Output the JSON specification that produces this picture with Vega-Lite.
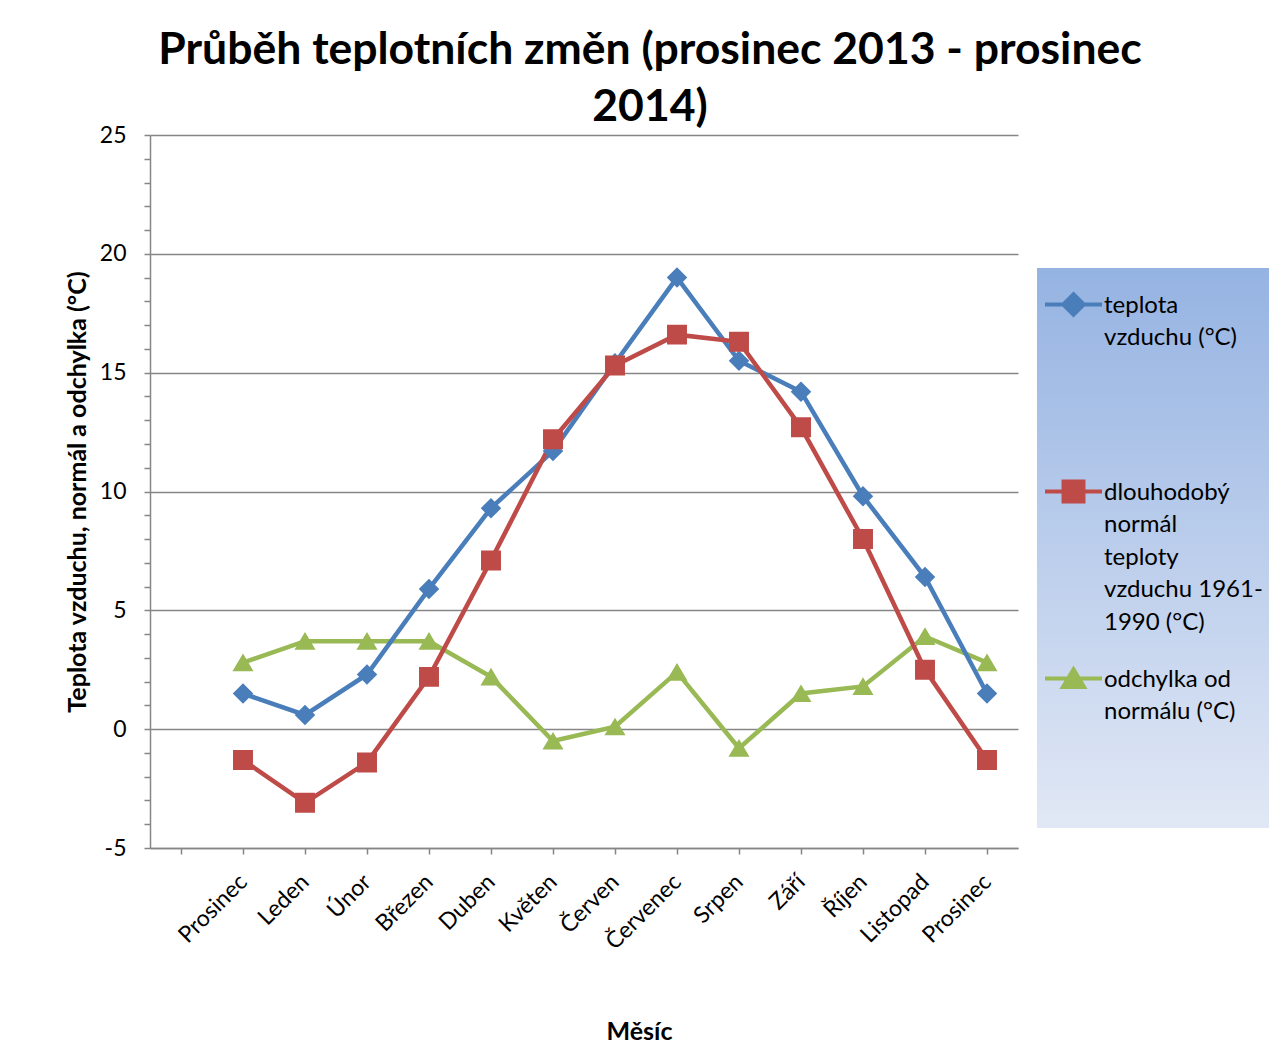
{
  "$schema": "https://vega.github.io/schema/vega-lite/v6.json",
  "width": 868,
  "height": 713,
  "padding": {"left": 65, "top": 27, "right": 0, "bottom": 0},
  "background": "white",
  "title": {
    "text": ["Průběh teplotních změn (prosinec 2013 - prosinec", "2014)"],
    "font": "Lato",
    "fontSize": 44.5,
    "fontWeight": "bold",
    "lineHeight": 57,
    "color": "black",
    "anchor": "middle",
    "dx": 66,
    "offset": -6
  },
  "config": {
    "view": {"stroke": null},
    "font": "Lato",
    "axis": {
      "labelFont": "Lato",
      "labelColor": "black",
      "titleColor": "black",
      "domainColor": "#868686",
      "tickColor": "#868686",
      "gridColor": "#868686",
      "domainWidth": 1.5,
      "tickWidth": 1.5,
      "gridWidth": 1.5
    }
  },
  "data": {
    "values": [
      {"mesic": "Prosinec 2013", "serie": "odchylka od normálu (°C)", "hodnota": 2.8},
      {"mesic": "Leden", "serie": "odchylka od normálu (°C)", "hodnota": 3.7},
      {"mesic": "Únor", "serie": "odchylka od normálu (°C)", "hodnota": 3.7},
      {"mesic": "Březen", "serie": "odchylka od normálu (°C)", "hodnota": 3.7},
      {"mesic": "Duben", "serie": "odchylka od normálu (°C)", "hodnota": 2.2},
      {"mesic": "Květen", "serie": "odchylka od normálu (°C)", "hodnota": -0.5},
      {"mesic": "Červen", "serie": "odchylka od normálu (°C)", "hodnota": 0.1},
      {"mesic": "Červenec", "serie": "odchylka od normálu (°C)", "hodnota": 2.4},
      {"mesic": "Srpen", "serie": "odchylka od normálu (°C)", "hodnota": -0.8},
      {"mesic": "Září", "serie": "odchylka od normálu (°C)", "hodnota": 1.5},
      {"mesic": "Říjen", "serie": "odchylka od normálu (°C)", "hodnota": 1.8},
      {"mesic": "Listopad", "serie": "odchylka od normálu (°C)", "hodnota": 3.9},
      {"mesic": "Prosinec 2014", "serie": "odchylka od normálu (°C)", "hodnota": 2.8},
      {"mesic": "Prosinec 2013", "serie": "teplota vzduchu (°C)", "hodnota": 1.5},
      {"mesic": "Leden", "serie": "teplota vzduchu (°C)", "hodnota": 0.6},
      {"mesic": "Únor", "serie": "teplota vzduchu (°C)", "hodnota": 2.3},
      {"mesic": "Březen", "serie": "teplota vzduchu (°C)", "hodnota": 5.9},
      {"mesic": "Duben", "serie": "teplota vzduchu (°C)", "hodnota": 9.3},
      {"mesic": "Květen", "serie": "teplota vzduchu (°C)", "hodnota": 11.7},
      {"mesic": "Červen", "serie": "teplota vzduchu (°C)", "hodnota": 15.4},
      {"mesic": "Červenec", "serie": "teplota vzduchu (°C)", "hodnota": 19.0},
      {"mesic": "Srpen", "serie": "teplota vzduchu (°C)", "hodnota": 15.5},
      {"mesic": "Září", "serie": "teplota vzduchu (°C)", "hodnota": 14.2},
      {"mesic": "Říjen", "serie": "teplota vzduchu (°C)", "hodnota": 9.8},
      {"mesic": "Listopad", "serie": "teplota vzduchu (°C)", "hodnota": 6.4},
      {"mesic": "Prosinec 2014", "serie": "teplota vzduchu (°C)", "hodnota": 1.5},
      {"mesic": "Prosinec 2013", "serie": "dlouhodobý normál teploty vzduchu 1961-1990 (°C)", "hodnota": -1.3},
      {"mesic": "Leden", "serie": "dlouhodobý normál teploty vzduchu 1961-1990 (°C)", "hodnota": -3.1},
      {"mesic": "Únor", "serie": "dlouhodobý normál teploty vzduchu 1961-1990 (°C)", "hodnota": -1.4},
      {"mesic": "Březen", "serie": "dlouhodobý normál teploty vzduchu 1961-1990 (°C)", "hodnota": 2.2},
      {"mesic": "Duben", "serie": "dlouhodobý normál teploty vzduchu 1961-1990 (°C)", "hodnota": 7.1},
      {"mesic": "Květen", "serie": "dlouhodobý normál teploty vzduchu 1961-1990 (°C)", "hodnota": 12.2},
      {"mesic": "Červen", "serie": "dlouhodobý normál teploty vzduchu 1961-1990 (°C)", "hodnota": 15.3},
      {"mesic": "Červenec", "serie": "dlouhodobý normál teploty vzduchu 1961-1990 (°C)", "hodnota": 16.6},
      {"mesic": "Srpen", "serie": "dlouhodobý normál teploty vzduchu 1961-1990 (°C)", "hodnota": 16.3},
      {"mesic": "Září", "serie": "dlouhodobý normál teploty vzduchu 1961-1990 (°C)", "hodnota": 12.7},
      {"mesic": "Říjen", "serie": "dlouhodobý normál teploty vzduchu 1961-1990 (°C)", "hodnota": 8.0},
      {"mesic": "Listopad", "serie": "dlouhodobý normál teploty vzduchu 1961-1990 (°C)", "hodnota": 2.5},
      {"mesic": "Prosinec 2014", "serie": "dlouhodobý normál teploty vzduchu 1961-1990 (°C)", "hodnota": -1.3}
    ]
  },
  "encoding": {
    "x": {
      "field": "mesic",
      "type": "ordinal",
      "sort": null,
      "scale": {
        "type": "point",
        "padding": 0.5,
        "domain": ["-", "Prosinec 2013", "Leden", "Únor", "Březen", "Duben", "Květen", "Červen", "Červenec", "Srpen", "Září", "Říjen", "Listopad", "Prosinec 2014"]
      },
      "axis": {
        "title": "Měsíc",
        "titleFont": "Lato",
        "titleFontSize": 25,
        "titleFontWeight": "bold",
        "titlePadding": 66,
        "titleX": 489,
        "labelAngle": -45,
        "labelAlign": "right",
        "labelBaseline": "middle",
        "labelPadding": 24,
        "labelFontSize": 23,
        "labelExpr": "datum.value == '-' ? '' : split(datum.value, ' ')[0]",
        "tickSize": 6,
        "grid": false
      }
    },
    "y": {
      "field": "hodnota",
      "type": "quantitative",
      "scale": {"domain": [-5, 25], "nice": false, "zero": false},
      "axis": {
        "title": "Teplota vzduchu, normál a odchylka (°C)",
        "titleFont": "Lato",
        "titleFontSize": 25,
        "titleFontWeight": "bold",
        "titlePadding": 9,
        "values": [-5, -4, -3, -2, -1, 0, 1, 2, 3, 4, 5, 6, 7, 8, 9, 10, 11, 12, 13, 14, 15, 16, 17, 18, 19, 20, 21, 22, 23, 24, 25],
        "labelExpr": "datum.value % 5 === 0 ? '' + datum.value : ''",
        "labelFontSize": 23,
        "labelPadding": 18,
        "tickSize": 6,
        "grid": true,
        "gridOpacity": {"condition": {"test": "datum.value % 5 === 0", "value": 1}, "value": 0}
      }
    },
    "color": {
      "field": "serie",
      "type": "nominal",
      "scale": {
        "domain": ["teplota vzduchu (°C)", "dlouhodobý normál teploty vzduchu 1961-1990 (°C)", "odchylka od normálu (°C)"],
        "range": ["#4a7ebb", "#be4b48", "#98b954"]
      },
      "legend": {
        "orient": "none",
        "legendX": 887,
        "legendY": 133,
        "title": null,
        "padding": 6,
        "rowPadding": 13,
        "symbolSize": 3249,
        "symbolStrokeWidth": 4,
        "labelFont": "Lato",
        "labelFontSize": 24,
        "labelColor": "black",
        "labelOffset": 0,
        "labelLimit": 400,
        "labelBaseline": "alphabetic",
        "labelExpr": "datum.label == 'teplota vzduchu (°C)' ? ['teplota', 'vzduchu (°C)', '', '', ''] : datum.label == 'odchylka od normálu (°C)' ? ['odchylka od', 'normálu (°C)', '', '', ''] : ['dlouhodobý', 'normál', 'teploty', 'vzduchu 1961-', '1990 (°C)']",
        "encode": {
          "legend": {
            "update": {
              "fill": {"value": {"gradient": "linear", "x1": 0, "y1": 0, "x2": 0, "y2": 1, "stops": [{"offset": 0, "color": "#95b3e2"}, {"offset": 1, "color": "#e1e8f5"}]}}
            }
          },
          "symbols": {
            "update": {
              "stroke": {"scale": "color", "field": "value"},
              "strokeWidth": {"value": 4},
              "size": {"value": 3249},
              "opacity": {"value": 1}
            }
          },
          "labels": {
            "update": {"lineHeight": {"value": 32.5}, "dy": {"value": 8}}
          }
        }
      }
    }
  },
  "layer": [
    {
      "mark": {"type": "line", "strokeWidth": 4.5}
    },
    {
      "mark": {"type": "point", "filled": true, "size": 3249, "opacity": 1},
      "encoding": {
        "shape": {
          "field": "serie",
          "type": "nominal",
          "scale": {
            "domain": ["teplota vzduchu (°C)", "dlouhodobý normál teploty vzduchu 1961-1990 (°C)", "odchylka od normálu (°C)"],
            "range": ["M-1,0H1M0,-0.36L0.36,0L0,0.36L-0.36,0Z", "M-1,0H1M-0.35,-0.35H0.35V0.35H-0.35Z", "M-1,0H1M0,-0.32L0.37,0.3H-0.37Z"]
          },
          "legend": null
        }
      }
    }
  ]
}
